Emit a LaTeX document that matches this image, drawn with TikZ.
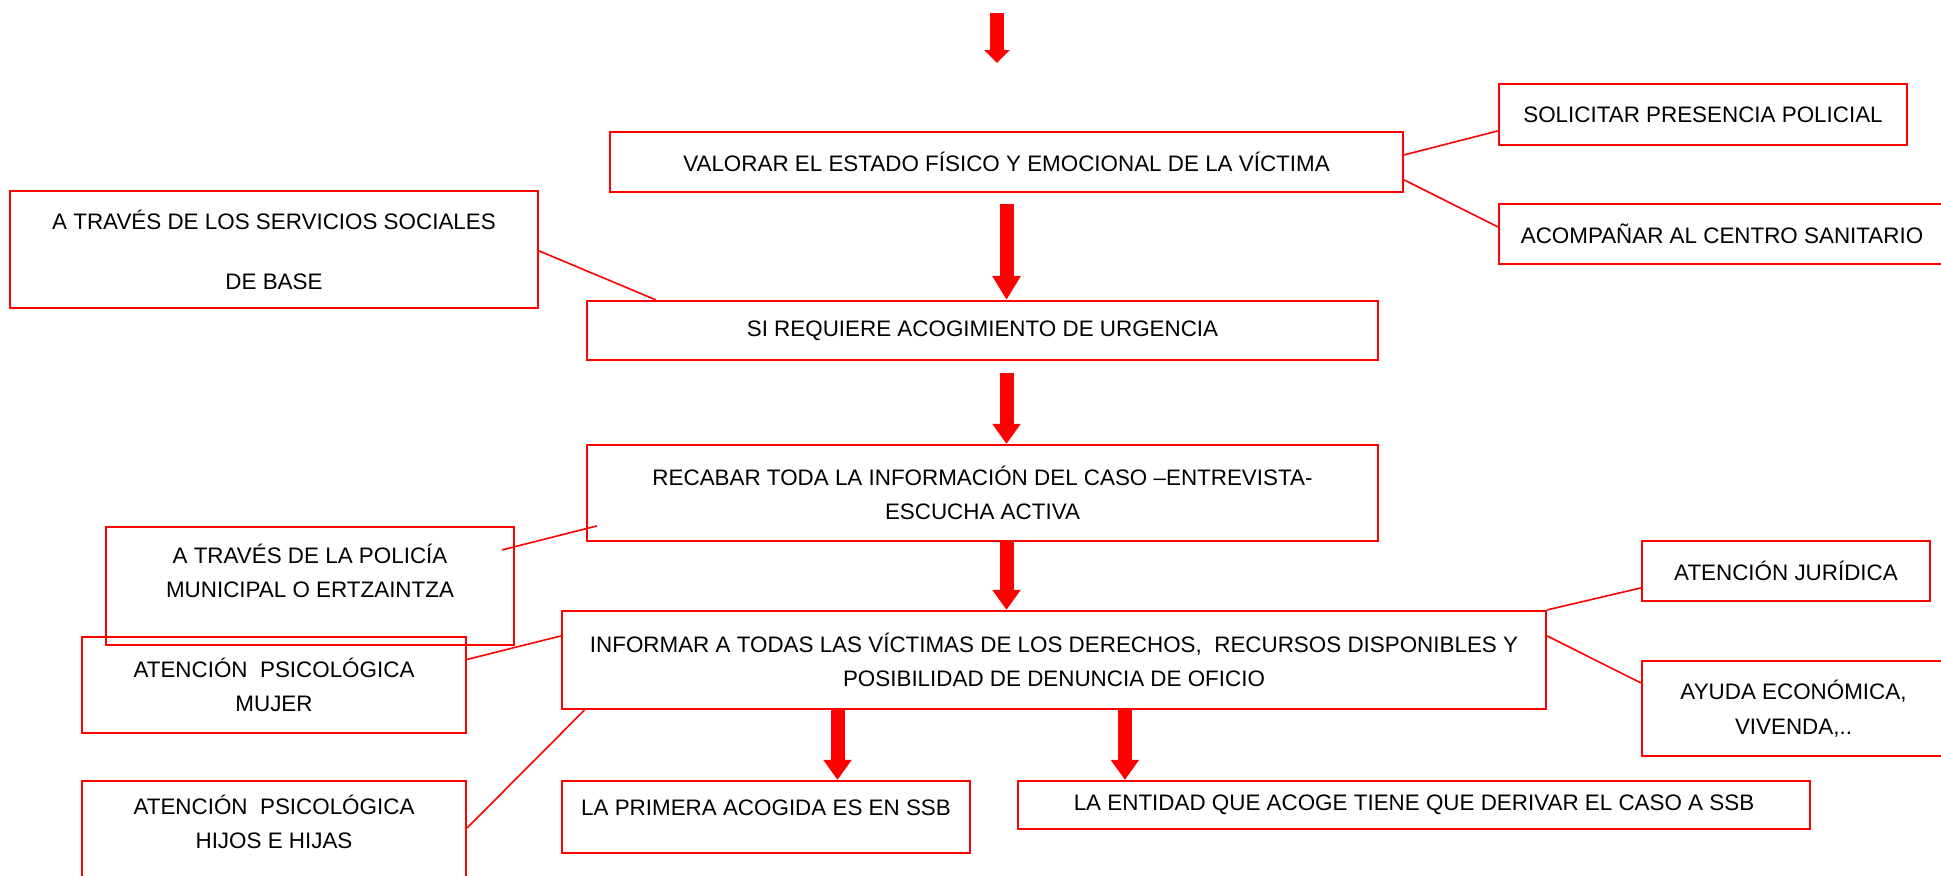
\documentclass[tikz,border=0pt]{standalone}
\usepackage{fontspec}
\setmainfont{Liberation Sans}
\usetikzlibrary{arrows.meta,calc}
\definecolor{rojo}{RGB}{255,0,0}
\begin{document}
\begin{tikzpicture}[x=0.5pt,y=-0.5pt,
  box/.style={draw=rojo, line width=1.1pt, rectangle, inner sep=0pt, align=center,
    font=\fontsize{11.2}{17.25}\selectfont, text=black},
  link/.style={draw=rojo, line width=0.8pt},
  bigarrow/.style={draw=rojo, line width=7pt, -{Triangle[length=10pt,width=13.5pt]}}
]
\useasboundingbox (0,0) rectangle (1941,875);

% boxes
\node[box, minimum width=396.5pt, minimum height=30pt] (valorar) at (1006.5,162)
  {VALORAR EL ESTADO FÍSICO Y EMOCIONAL DE LA VÍCTIMA};
\node[box, minimum width=204pt, minimum height=30.5pt] (solicitar) at (1703,114.5)
  {SOLICITAR PRESENCIA POLICIAL};
\node[box, minimum width=223pt, minimum height=30pt] (acompanar) at (1722,234)
  {ACOMPAÑAR AL CENTRO SANITARIO};
\node[box, minimum width=264pt, minimum height=58.5pt] (servicios) at (274,249.5)
  {A TRAVÉS DE LOS SERVICIOS SOCIALES\\[12.75pt]DE BASE};
\node[box, minimum width=395.5pt, minimum height=29.5pt] (si) at (982.5,330.5)
  {SI REQUIERE ACOGIMIENTO DE URGENCIA};
\node[box, minimum width=395.5pt, minimum height=48pt] (recabar) at (982.5,493)
  {RECABAR TODA LA INFORMACIÓN DEL CASO –ENTREVISTA-\\ESCUCHA ACTIVA};
\node[box, minimum width=204pt, minimum height=59pt] (policia) at (310,586)
  {A TRAVÉS DE LA POLICÍA\\MUNICIPAL O ERTZAINTZA\\[-2.25pt]\mbox{}};
\node[box, minimum width=492pt, minimum height=49pt] (informar) at (1054,660)
  {INFORMAR A TODAS LAS VÍCTIMAS DE LOS DERECHOS,\ \ RECURSOS DISPONIBLES Y\\POSIBILIDAD DE DENUNCIA DE OFICIO};
\node[box, minimum width=192pt, minimum height=48pt] (mujer) at (274,685)
  {ATENCIÓN\ \ PSICOLÓGICA\\MUJER};
\node[box, minimum width=192pt, minimum height=50pt] (hijos) at (274,831)
  {ATENCIÓN\ \ PSICOLÓGICA\\HIJOS E HIJAS\\[-8pt]\mbox{}};
\node[box, minimum width=144pt, minimum height=30pt] (juridica) at (1786,571)
  {ATENCIÓN JURÍDICA};
\node[box, minimum width=151.5pt, minimum height=47.5pt] (ayuda) at (1793.5,708.5)
  {AYUDA ECONÓMICA,\\VIVENDA,..};
\node[box, minimum width=204pt, minimum height=36pt] (primera) at (766,817)
  {LA PRIMERA ACOGIDA ES EN SSB\\[-8pt]\mbox{}};
\node[box, minimum width=396pt, minimum height=24pt] (entidad) at (1414,805)
  {LA ENTIDAD QUE ACOGE TIENE QUE DERIVAR EL CASO A SSB};

% thin connectors
\draw[link] ($(valorar.north east)+(0,24)$) -- ($(solicitar.north west)+(0,48)$);
\draw[link] ($(valorar.north east)+(0,49)$) -- ($(acompanar.north west)+(0,24)$);
\draw[link] ($(servicios.north east)+(0,61)$) -- ($(si.north west)+(70,0)$);
\draw[link] ($(policia.north east)+(-13,24)$) -- ($(recabar.north west)+(11,82)$);
\draw[link] ($(mujer.north east)+(0,23.5)$) -- ($(informar.north west)+(0,26)$);
\draw[link] ($(hijos.north east)+(0,48)$) -- ($(informar.south west)+(23.5,0)$);
\draw[link] (informar.north east) -- ($(juridica.north west)+(0,48)$);
\draw[link] ($(informar.north east)+(0,26)$) -- ($(ayuda.north west)+(0,23)$);

% big arrows
\coordinate (topS) at (997,13);
\coordinate (topE) at (997,63);
\draw[draw=rojo, line width=7pt, -{Triangle[length=6.5pt,width=12.5pt]}] (topS) -- (topE);
\draw[bigarrow, -{Triangle[length=12pt,width=13.5pt]}, shorten <=5.5pt] (valorar.south) -- (valorar.south |- si.north);
\draw[bigarrow, shorten <=6pt] (valorar.south |- si.south) -- (valorar.south |- recabar.north);
\draw[bigarrow] (valorar.south |- recabar.south) -- (valorar.south |- informar.north);
\coordinate (a5) at ($(informar.south west)+(276.6,0)$);
\coordinate (a6) at ($(informar.south west)+(564,0)$);
\draw[bigarrow] (a5) -- (a5 |- primera.north);
\draw[bigarrow] (a6) -- (a6 |- entidad.north);
\end{tikzpicture}
\end{document}
